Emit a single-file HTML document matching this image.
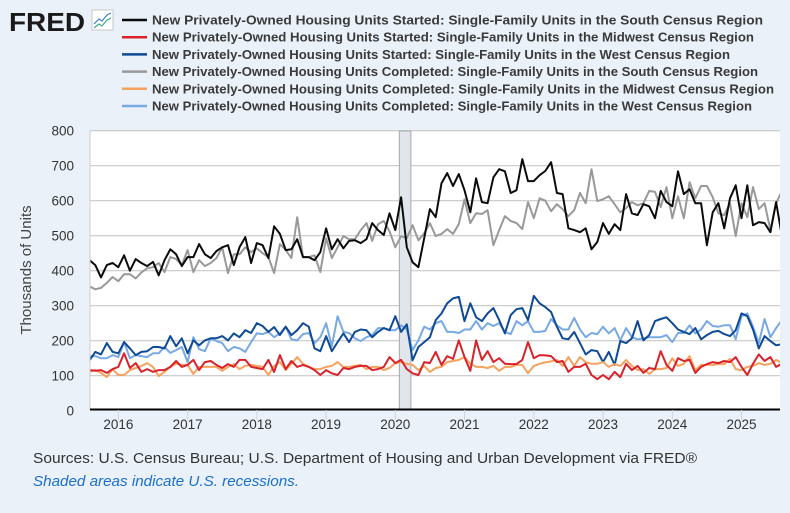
<!DOCTYPE html>
<html><head><meta charset="utf-8"><style>
body{margin:0;background:#eaf1f9;font-family:"Liberation Sans",sans-serif;}
#wrap{position:relative;width:790px;height:513px;overflow:hidden;background:#eaf1f9;}
</style></head><body>
<div id="wrap">
<svg id="chart" width="790" height="513" xmlns="http://www.w3.org/2000/svg">
<g>
<text x="9" y="31" font-family="Liberation Sans, sans-serif" font-weight="bold" font-size="26" fill="#1a1a1a" textLength="76" lengthAdjust="spacingAndGlyphs">FRED</text>
<rect x="92" y="10" width="21" height="20" fill="#fff" stroke="#bbb" stroke-width="0.8"/>
<polyline points="94,24 99,19 102,21 107,15 111,13" fill="none" stroke="#3a7fd0" stroke-width="1.2"/>
<polyline points="94,28 99,24 102,26 107,20 111,18" fill="none" stroke="#3aaa8a" stroke-width="1.2"/>
</g>
<g id="legend"></g>
<rect x="90" y="131" width="690" height="279" fill="#fff"/>
<g id="grid"></g>
<g id="rec"></g>
<g id="series"></g>
<line x1="90" y1="131" x2="90" y2="410" stroke="#ccc" stroke-width="1"/>
<line x1="90" y1="409.5" x2="780" y2="409.5" stroke="#000" stroke-width="2"/>
<g id="xticks"></g>
<g id="yticks"></g>
<text transform="translate(31,270) rotate(-90)" text-anchor="middle" font-size="15" fill="#444">Thousands of Units</text>
<text x="33" y="463" font-size="14.5" fill="#333" textLength="664" lengthAdjust="spacingAndGlyphs">Sources: U.S. Census Bureau; U.S. Department of Housing and Urban Development via FRED®</text>
<text x="33" y="486" font-size="14.5" font-style="italic" fill="#1a6fcf" textLength="266" lengthAdjust="spacingAndGlyphs">Shaded areas indicate U.S. recessions.</text>
</svg>
</div>
<script>
const startMonthIndex = 0; // Aug 2015
const yTicks = [0,100,200,300,400,500,600,700,800];
const xYears = ["2016","2017","2018","2019","2020","2021","2022","2023","2024","2025"];
const xYearMonthIdx = [5,17,29,41,53,65,77,89,101,113];
const recession = [53.7,55.7];
const southStarts = [430,416,381,416,422,410,444,400,433,422,413,425,387,430,461,447,413,439,439,476,447,436,456,467,473,416,467,496,422,479,473,436,527,505,459,461,490,439,439,430,453,521,461,490,464,485,487,479,490,536,516,502,564,516,610,467,424,410,493,576,553,650,679,642,676,630,567,664,596,593,667,690,684,622,630,719,656,656,673,685,710,622,619,521,516,510,521,461,482,536,505,533,516,619,564,559,590,584,550,628,596,584,684,619,633,593,593,473,567,593,521,607,644,550,644,530,539,536,510,596,499];
const midwestStarts = [116,114,116,108,119,125,164,122,136,111,119,111,116,116,125,142,125,131,145,116,139,142,131,122,133,125,145,145,125,122,119,145,111,159,119,142,125,131,125,116,102,116,107,102,122,119,125,128,128,116,119,125,153,136,145,119,107,102,139,136,168,131,156,148,201,153,114,201,145,170,139,150,134,133,133,145,196,150,159,158,156,139,142,111,125,125,134,102,90,102,90,111,96,134,116,128,108,122,119,170,131,114,150,142,145,108,125,133,139,136,142,139,153,125,102,134,161,142,153,125,134];
const westStarts = [144,168,161,193,168,164,196,178,159,168,170,182,182,178,213,184,207,164,201,187,201,207,207,213,201,221,210,230,222,250,242,225,239,216,240,216,230,250,240,178,170,213,170,196,221,196,225,232,230,210,225,236,230,270,225,247,144,182,196,210,259,278,307,321,325,256,307,267,256,278,293,259,221,273,290,293,259,328,307,296,282,240,207,204,225,193,161,173,170,139,168,131,199,193,207,256,201,216,256,262,267,250,232,225,219,236,204,216,225,228,219,213,230,278,270,232,178,213,199,187,190];
const southCompleted = [355,347,351,365,382,370,390,390,378,395,407,410,422,396,439,433,416,459,396,430,413,422,436,467,393,447,447,467,453,464,450,439,393,476,459,436,553,439,439,444,396,493,436,467,499,490,490,516,536,485,533,542,513,467,499,493,530,487,507,536,499,505,519,505,533,604,536,564,562,573,473,516,556,542,536,519,596,550,607,600,570,590,576,556,573,622,593,690,599,604,613,590,567,579,596,587,593,628,625,582,639,550,613,550,653,607,642,642,610,564,559,593,499,593,553,639,576,593,516,593,628];
const midwestCompleted = [111,116,108,96,119,102,102,116,122,128,136,125,99,111,125,134,131,131,105,125,125,125,125,114,125,133,119,128,131,128,125,102,128,139,116,134,153,134,125,119,119,125,128,139,125,125,128,131,119,125,125,116,122,136,139,134,131,116,128,111,122,125,139,142,145,153,134,125,125,122,128,114,125,125,131,131,107,128,134,138,141,145,128,153,128,153,139,134,134,139,125,133,128,145,128,116,119,105,119,119,122,150,128,134,156,116,131,131,131,133,133,148,119,116,125,128,136,131,134,145,136];
const westCompleted = [156,156,150,150,159,153,196,150,159,156,153,164,164,182,165,173,182,139,210,176,170,207,199,193,170,182,178,168,196,221,219,225,210,221,240,204,201,219,222,193,210,250,184,270,225,222,207,199,210,216,236,236,230,230,244,232,173,201,240,232,250,256,225,225,222,232,232,256,232,250,242,250,225,219,256,244,256,225,225,228,262,244,232,232,265,232,210,222,219,240,221,236,201,236,210,204,207,210,210,210,216,196,222,222,244,221,232,256,242,240,244,244,204,270,278,240,193,262,210,236,259];

const NS='http://www.w3.org/2000/svg';
function xScale(i){return 89.5 + 5.77*(i - startMonthIndex);}
function yScale(v){return 410.7 - v*0.35;}
function mk(tag,attrs,parent){const e=document.createElementNS(NS,tag);for(const k in attrs)e.setAttribute(k,attrs[k]);parent.appendChild(e);return e;}
const svg=document.getElementById('chart');
const defs=mk('defs',{},svg);
const cp=mk('clipPath',{id:'clip'},defs);
mk('rect',{x:90,y:125,width:690,height:286},cp);

const grid=document.getElementById('grid');
const yt=document.getElementById('yticks');
yTicks.forEach(v=>{
  if(v>0){const l=mk('line',{x1:90,x2:780,y1:yScale(v),y2:yScale(v),stroke:'#c8c8c8','stroke-width':1.2},grid);
  
  }
  const t=mk('text',{x:74,y:yScale(v)+5,'text-anchor':'end','font-size':13.5,fill:'#333'},yt);
  t.textContent=String(v);
  
  
});
const xt=document.getElementById('xticks');
xYears.forEach((y,k)=>{
  const x=xScale(xYearMonthIdx[k]);
  const l=mk('line',{x1:x,x2:x,y1:410,y2:420,stroke:'#ccd6e4','stroke-width':1},xt);
  
  
  const t=mk('text',{x:x,y:429,'text-anchor':'middle','font-size':13.5,fill:'#333'},xt);
  t.textContent=y;
  
  
});
const rec=document.getElementById('rec');
const rr=mk('rect',{x:xScale(recession[0]),y:131,width:xScale(recession[1])-xScale(recession[0]),height:278,fill:'#e1e6ec',stroke:'#a8a8a8','stroke-width':1},rec);



const seriesList=[
 {name:'south-starts',data:southStarts,color:'#0b0b0b',label:'New Privately-Owned Housing Units Started: Single-Family Units in the South Census Region',len:611},
 {name:'midwest-starts',data:midwestStarts,color:'#d9222a',label:'New Privately-Owned Housing Units Started: Single-Family Units in the Midwest Census Region',len:602},
 {name:'west-starts',data:westStarts,color:'#0e4a96',label:'New Privately-Owned Housing Units Started: Single-Family Units in the West Census Region',len:578},
 {name:'south-completed',data:southCompleted,color:'#999999',label:'New Privately-Owned Housing Units Completed: Single-Family Units in the South Census Region',len:606},
 {name:'midwest-completed',data:midwestCompleted,color:'#f5a25e',label:'New Privately-Owned Housing Units Completed: Single-Family Units in the Midwest Census Region',len:622},
 {name:'west-completed',data:westCompleted,color:'#78a9e4',label:'New Privately-Owned Housing Units Completed: Single-Family Units in the West Census Region',len:600}
];
const sg=document.getElementById('series');
sg.setAttribute('clip-path','url(#clip)');
const drawOrder=[3,0,5,2,4,1];
drawOrder.forEach(k=>{
  const s=seriesList[k];
  const pts=s.data.map((v,i)=>xScale(i).toFixed(1)+','+yScale(v).toFixed(1)).join(' ');
  const p=mk('polyline',{points:pts,fill:'none',stroke:s.color,'stroke-width':2,'stroke-linejoin':'round'},sg);
  
  
});
const lg=document.getElementById('legend');
seriesList.forEach((s,k)=>{
  const y=20+k*17.2;
  const l=mk('line',{x1:122,x2:147,y1:y,y2:y,stroke:s.color,'stroke-width':2.5},lg);
  
  
  const t=mk('text',{x:152,y:y+4.5,'font-size':13,'font-weight':'bold',fill:'#3a3a3a',textLength:s.len,lengthAdjust:'spacingAndGlyphs'},lg);
  t.textContent=s.label;
  
  
});
</script>
</body></html>
